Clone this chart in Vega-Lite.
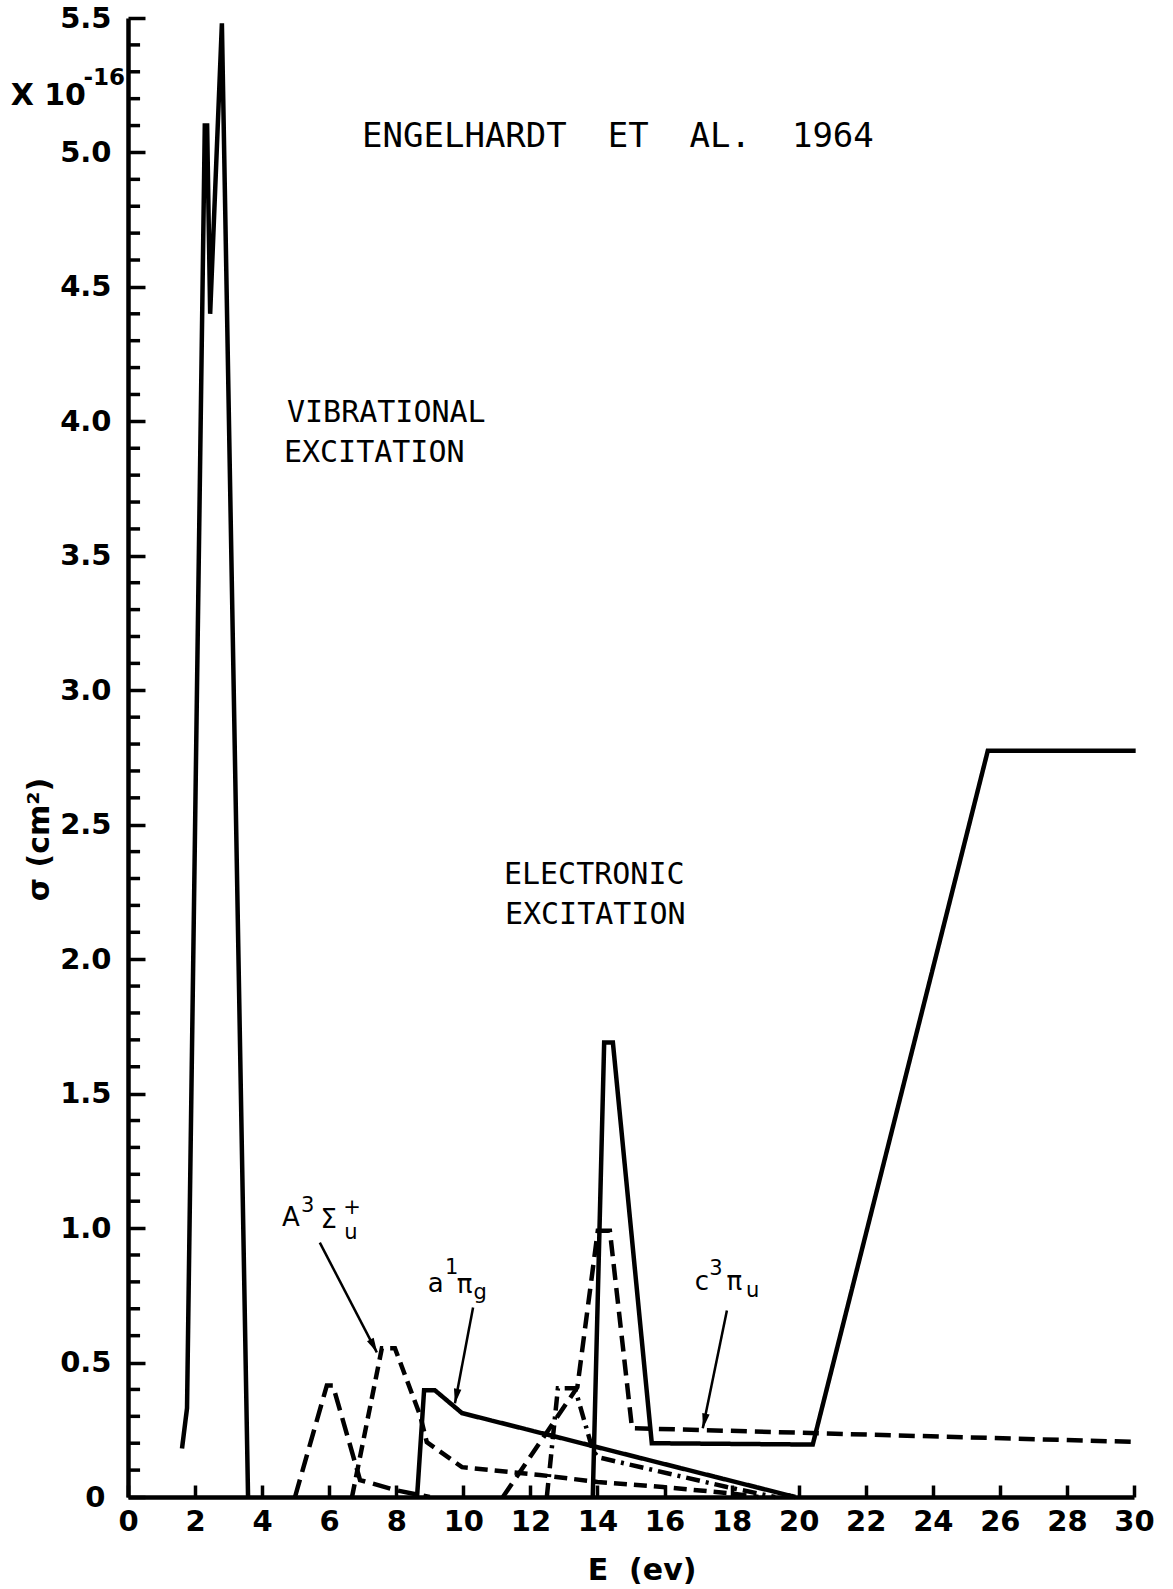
{
  "$schema": "https://vega.github.io/schema/vega-lite/v6.json",
  "width": 1006,
  "height": 1479,
  "autosize": {"type": "none"},
  "padding": {"left": 128, "top": 18, "right": 39, "bottom": 92},
  "background": "white",
  "config": {"view": {"stroke": null}, "font": "DejaVu Sans"},
  "datasets": {
    "curves": [
      {"series": "vib", "e": 1.61, "s": 0.18},
      {"series": "vib", "e": 1.76, "s": 0.33},
      {"series": "vib", "e": 2.29, "s": 5.1},
      {"series": "vib", "e": 2.36, "s": 5.1},
      {"series": "vib", "e": 2.45, "s": 4.4},
      {"series": "vib", "e": 2.8, "s": 5.48},
      {"series": "vib", "e": 3.58, "s": 0},
      {"series": "A", "e": 4.98, "s": 0},
      {"series": "A", "e": 5.93, "s": 0.415},
      {"series": "A", "e": 6.11, "s": 0.415},
      {"series": "A", "e": 6.92, "s": 0.063},
      {"series": "A", "e": 8.0, "s": 0.025},
      {"series": "A", "e": 9.0, "s": 0},
      {"series": "B", "e": 6.68, "s": 0},
      {"series": "B", "e": 7.57, "s": 0.553},
      {"series": "B", "e": 7.96, "s": 0.553},
      {"series": "B", "e": 8.71, "s": 0.304},
      {"series": "B", "e": 8.91, "s": 0.204},
      {"series": "B", "e": 9.96, "s": 0.111},
      {"series": "B", "e": 12.28, "s": 0.082},
      {"series": "B", "e": 14.0, "s": 0.056},
      {"series": "B", "e": 15.95, "s": 0.037},
      {"series": "B", "e": 17.86, "s": 0.015},
      {"series": "B", "e": 18.8, "s": 0},
      {"series": "C", "e": 8.62, "s": 0},
      {"series": "C", "e": 8.83, "s": 0.397},
      {"series": "C", "e": 9.15, "s": 0.397},
      {"series": "C", "e": 9.96, "s": 0.312},
      {"series": "C", "e": 19.9, "s": 0},
      {"series": "D", "e": 12.49, "s": 0},
      {"series": "D", "e": 12.82, "s": 0.404},
      {"series": "D", "e": 13.33, "s": 0.404},
      {"series": "D", "e": 13.86, "s": 0.174},
      {"series": "D", "e": 14.01, "s": 0.148},
      {"series": "D", "e": 17.86, "s": 0.037},
      {"series": "D", "e": 19.3, "s": 0},
      {"series": "E", "e": 11.18, "s": 0},
      {"series": "E", "e": 13.4, "s": 0.408},
      {"series": "E", "e": 14.01, "s": 0.99},
      {"series": "E", "e": 14.37, "s": 0.99},
      {"series": "E", "e": 15.03, "s": 0.256},
      {"series": "E", "e": 30.0, "s": 0.205},
      {"series": "F", "e": 13.86, "s": 0},
      {"series": "F", "e": 14.2, "s": 1.69},
      {"series": "F", "e": 14.46, "s": 1.69},
      {"series": "F", "e": 15.62, "s": 0.2},
      {"series": "F", "e": 20.42, "s": 0.195},
      {"series": "F", "e": 25.64, "s": 2.775},
      {"series": "F", "e": 30.05, "s": 2.775}
    ],
    "minor": [
      {"s": 0.1}, {"s": 0.2}, {"s": 0.3}, {"s": 0.4},
      {"s": 0.6}, {"s": 0.7}, {"s": 0.8}, {"s": 0.9},
      {"s": 1.1}, {"s": 1.2}, {"s": 1.3}, {"s": 1.4},
      {"s": 1.6}, {"s": 1.7}, {"s": 1.8}, {"s": 1.9},
      {"s": 2.1}, {"s": 2.2}, {"s": 2.3}, {"s": 2.4},
      {"s": 2.6}, {"s": 2.7}, {"s": 2.8}, {"s": 2.9},
      {"s": 3.1}, {"s": 3.2}, {"s": 3.3}, {"s": 3.4},
      {"s": 3.6}, {"s": 3.7}, {"s": 3.8}, {"s": 3.9},
      {"s": 4.1}, {"s": 4.2}, {"s": 4.3}, {"s": 4.4},
      {"s": 4.6}, {"s": 4.7}, {"s": 4.8}, {"s": 4.9},
      {"s": 5.1}, {"s": 5.2}, {"s": 5.3}, {"s": 5.4}
    ],
    "arrows": [
      {"label": "A", "e1": 5.72, "s1": 0.946, "e2": 7.42, "s2": 0.538, "he": 7.33, "hs": 0.561},
      {"label": "a", "e1": 10.29, "s1": 0.705, "e2": 9.75, "s2": 0.349, "he": 9.79, "hs": 0.374},
      {"label": "c", "e1": 17.86, "s1": 0.694, "e2": 17.14, "s2": 0.256, "he": 17.19, "hs": 0.282}
    ],
    "notes": [
      {"kind": "title", "text": "ENGELHARDT\u00a0\u00a0ET\u00a0\u00a0AL.\u00a0\u00a01964", "e": 6.98, "s": 5.058},
      {"kind": "section", "text": "VIBRATIONAL", "e": 4.74, "s": 4.03},
      {"kind": "section", "text": "EXCITATION", "e": 4.65, "s": 3.881},
      {"kind": "section", "text": "ELECTRONIC", "e": 11.21, "s": 2.312},
      {"kind": "section", "text": "EXCITATION", "e": 11.24, "s": 2.163},
      {"kind": "big", "text": "A", "e": 4.59, "s": 1.009},
      {"kind": "big", "text": "Σ", "e": 5.74, "s": 1.002},
      {"kind": "big", "text": "a", "e": 8.94, "s": 0.761},
      {"kind": "big", "text": "π", "e": 9.8, "s": 0.757},
      {"kind": "big", "text": "c", "e": 16.9, "s": 0.768},
      {"kind": "big", "text": "π", "e": 17.85, "s": 0.768},
      {"kind": "small", "text": "3", "e": 5.16, "s": 1.058},
      {"kind": "small", "text": "+", "e": 6.42, "s": 1.054},
      {"kind": "small", "text": "u", "e": 6.45, "s": 0.961},
      {"kind": "small", "text": "1", "e": 9.45, "s": 0.831},
      {"kind": "small", "text": "g", "e": 10.3, "s": 0.738},
      {"kind": "small", "text": "3", "e": 17.33, "s": 0.824},
      {"kind": "small", "text": "u", "e": 18.43, "s": 0.742},
      {"kind": "axis", "text": "X 10", "e": -3.5, "s": 5.21},
      {"kind": "axis", "text": "E\u00a0\u00a0(ev)", "e": 13.71, "s": -0.275},
      {"kind": "axissup", "text": "-16", "e": -1.33, "s": 5.277},
      {"kind": "ytitle", "text": "σ (cm²)", "e": -2.62, "s": 2.445}
    ]
  },
  "layer": [
    {
      "data": {"name": "curves"},
      "mark": {"type": "line", "color": "black", "strokeWidth": 4.5, "clip": false},
      "encoding": {
        "x": {
          "field": "e", "type": "quantitative", "title": null,
          "scale": {"domain": [0, 30], "nice": false, "zero": false},
          "axis": {
            "title": null,
            "values": [0, 2, 4, 6, 8, 10, 12, 14, 16, 18, 20, 22, 24, 26, 28, 30],
            "grid": false,
            "domainColor": "black", "domainWidth": 4.5,
            "tickColor": "black", "tickWidth": 3.5, "tickSize": -12,
            "labelPadding": 22, "labelFontSize": 29, "labelFontWeight": "bold",
            "labelColor": "black", "labelOverlap": false, "labelFlush": false, "labelBound": false
          }
        },
        "y": {
          "field": "s", "type": "quantitative", "title": null,
          "scale": {"domain": [0, 5.5], "nice": false, "zero": true},
          "axis": {
            "title": null,
            "values": [0, 0.5, 1.0, 1.5, 2.0, 2.5, 3.0, 3.5, 4.0, 4.5, 5.0, 5.5],
            "labelExpr": "datum.value == 0 ? '0' : format(datum.value, '.1f')",
            "grid": false,
            "domainColor": "black", "domainWidth": 4.5,
            "tickColor": "black", "tickWidth": 3.5, "tickSize": -17,
            "labelFontSize": 29,
            "labelPadding": {"condition": {"test": "datum.value == 0", "value": 40}, "value": 34},
            "labelFontWeight": "bold",
            "labelColor": "black", "labelOverlap": false, "labelFlush": false, "labelBound": false
          }
        },
        "detail": {"field": "series"},
        "strokeDash": {
          "field": "series", "type": "nominal",
          "scale": {
            "domain": ["vib", "A", "B", "C", "D", "E", "F"],
            "range": [[1, 0], [18, 8], [13, 7], [1, 0], [14, 6, 3, 6], [16, 8], [1, 0]]
          },
          "legend": null
        }
      }
    },
    {
      "data": {"name": "minor"},
      "mark": {"type": "rule", "color": "black", "strokeWidth": 3.5},
      "encoding": {
        "y": {"field": "s", "type": "quantitative", "title": null},
        "x": {"datum": 0, "type": "quantitative", "title": null},
        "x2": {"datum": 0.36}
      }
    },
    {
      "data": {"name": "arrows"},
      "mark": {"type": "rule", "color": "black", "strokeWidth": 2.5},
      "encoding": {
        "x": {"field": "e1", "type": "quantitative", "title": null},
        "y": {"field": "s1", "type": "quantitative", "title": null},
        "x2": {"field": "e2"},
        "y2": {"field": "s2"}
      }
    },
    {
      "data": {"name": "arrows"},
      "transform": [{"filter": "datum.label == 'A'"}],
      "mark": {"type": "point", "shape": "M-0.5,-1L0.5,-1L0,1Z", "filled": true, "color": "black", "opacity": 1, "size": 225, "angle": -27.4},
      "encoding": {
        "x": {"field": "he", "type": "quantitative", "title": null},
        "y": {"field": "hs", "type": "quantitative", "title": null}
      }
    },
    {
      "data": {"name": "arrows"},
      "transform": [{"filter": "datum.label == 'a'"}],
      "mark": {"type": "point", "shape": "M-0.5,-1L0.5,-1L0,1Z", "filled": true, "color": "black", "opacity": 1, "size": 225, "angle": 10.6},
      "encoding": {
        "x": {"field": "he", "type": "quantitative", "title": null},
        "y": {"field": "hs", "type": "quantitative", "title": null}
      }
    },
    {
      "data": {"name": "arrows"},
      "transform": [{"filter": "datum.label == 'c'"}],
      "mark": {"type": "point", "shape": "M-0.5,-1L0.5,-1L0,1Z", "filled": true, "color": "black", "opacity": 1, "size": 225, "angle": 11.5},
      "encoding": {
        "x": {"field": "he", "type": "quantitative", "title": null},
        "y": {"field": "hs", "type": "quantitative", "title": null}
      }
    },
    {
      "data": {"name": "notes"},
      "transform": [{"filter": "datum.kind == 'title'"}],
      "mark": {"type": "text", "align": "left", "baseline": "middle", "fontSize": 34, "font": "DejaVu Sans Mono", "color": "black"},
      "encoding": {
        "x": {"field": "e", "type": "quantitative", "title": null},
        "y": {"field": "s", "type": "quantitative", "title": null},
        "text": {"field": "text"}
      }
    },
    {
      "data": {"name": "notes"},
      "transform": [{"filter": "datum.kind == 'section'"}],
      "mark": {"type": "text", "align": "left", "baseline": "middle", "fontSize": 30, "font": "DejaVu Sans Mono", "color": "black"},
      "encoding": {
        "x": {"field": "e", "type": "quantitative", "title": null},
        "y": {"field": "s", "type": "quantitative", "title": null},
        "text": {"field": "text"}
      }
    },
    {
      "data": {"name": "notes"},
      "transform": [{"filter": "datum.kind == 'big'"}],
      "mark": {"type": "text", "align": "left", "baseline": "alphabetic", "fontSize": 26, "color": "black"},
      "encoding": {
        "x": {"field": "e", "type": "quantitative", "title": null},
        "y": {"field": "s", "type": "quantitative", "title": null},
        "text": {"field": "text"}
      }
    },
    {
      "data": {"name": "notes"},
      "transform": [{"filter": "datum.kind == 'small'"}],
      "mark": {"type": "text", "align": "left", "baseline": "alphabetic", "fontSize": 21, "color": "black"},
      "encoding": {
        "x": {"field": "e", "type": "quantitative", "title": null},
        "y": {"field": "s", "type": "quantitative", "title": null},
        "text": {"field": "text"}
      }
    },
    {
      "data": {"name": "notes"},
      "transform": [{"filter": "datum.kind == 'axis'"}],
      "mark": {"type": "text", "align": "left", "baseline": "middle", "fontSize": 30, "fontWeight": "bold", "color": "black"},
      "encoding": {
        "x": {"field": "e", "type": "quantitative", "title": null},
        "y": {"field": "s", "type": "quantitative", "title": null},
        "text": {"field": "text"}
      }
    },
    {
      "data": {"name": "notes"},
      "transform": [{"filter": "datum.kind == 'axissup'"}],
      "mark": {"type": "text", "align": "left", "baseline": "middle", "fontSize": 23, "fontWeight": "bold", "color": "black"},
      "encoding": {
        "x": {"field": "e", "type": "quantitative", "title": null},
        "y": {"field": "s", "type": "quantitative", "title": null},
        "text": {"field": "text"}
      }
    },
    {
      "data": {"name": "notes"},
      "transform": [{"filter": "datum.kind == 'ytitle'"}],
      "mark": {"type": "text", "align": "center", "baseline": "middle", "fontSize": 30, "fontWeight": "bold", "angle": 270, "color": "black"},
      "encoding": {
        "x": {"field": "e", "type": "quantitative", "title": null},
        "y": {"field": "s", "type": "quantitative", "title": null},
        "text": {"field": "text"}
      }
    }
  ]
}
